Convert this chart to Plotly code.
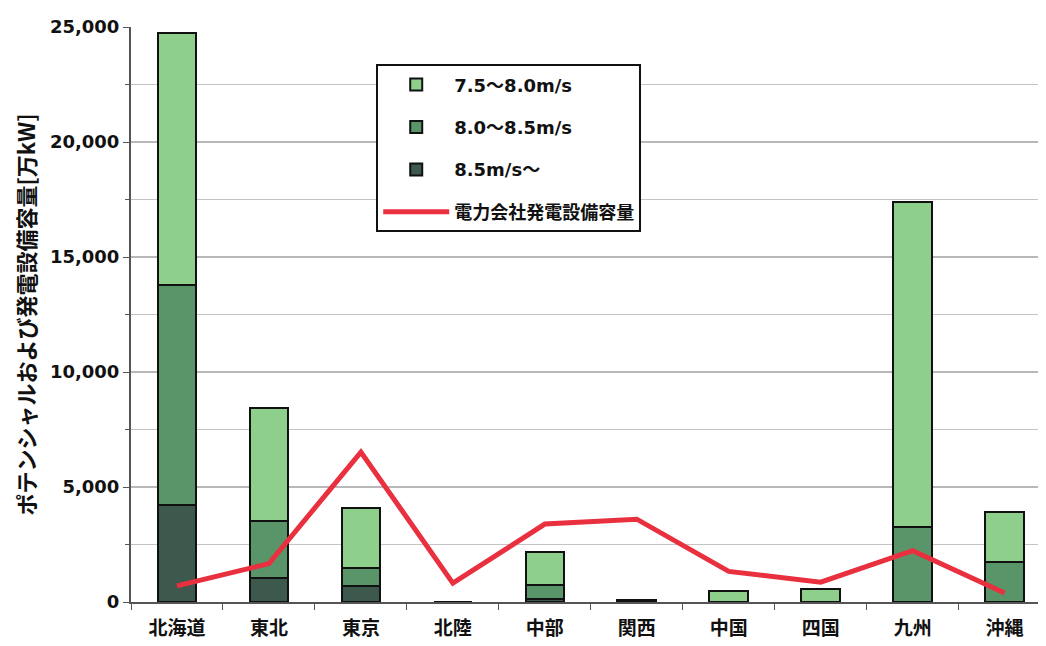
import plotly.graph_objects as go

regions = ["北海道", "東北", "東京", "北陸", "中部", "関西", "中国", "四国", "九州", "沖縄"]
wind_85_plus = [4200, 1030, 690, 0, 150, 0, 0, 0, 0, 0]
wind_80_85 = [9580, 2490, 770, 0, 580, 0, 0, 0, 3260, 1760]
wind_75_80 = [10940, 4930, 2620, 0, 1460, 80, 500, 560, 14120, 2140]
utility_capacity = [700, 1670, 6520, 820, 3390, 3600, 1330, 860, 2230, 390]

names = ["7.5～8.0m/s", "8.0～8.5m/s", "8.5m/s～", "電力会社発電設備容量"]
col_light = "#8fcf8c"
col_mid = "#5a956a"
col_dark = "#3d584c"
col_line = "#e8303f"

font_latin = "DejaVu Sans, Noto Sans CJK JP, sans-serif"
font_cjk = "Noto Sans CJK JP, sans-serif"

fig = go.Figure()
bar_common = dict(x=regions, width=0.42, marker_line=dict(color="#111111", width=2))
fig.add_trace(go.Bar(y=wind_85_plus, name=names[2], marker_color=col_dark,
                     legendrank=3, legendgroup="c", **bar_common))
fig.add_trace(go.Bar(y=wind_80_85, name=names[1], marker_color=col_mid,
                     legendrank=2, legendgroup="b", **bar_common))
fig.add_trace(go.Bar(y=wind_75_80, name=names[0], marker_color=col_light,
                     legendrank=1, legendgroup="a", **bar_common))
fig.add_trace(go.Scatter(x=regions, y=utility_capacity, name=names[3], mode="lines",
                         line=dict(color=col_line, width=5),
                         legendrank=4, legendgroup="d"))

fig.update_layout(
    width=1046, height=646,
    barmode="stack",
    paper_bgcolor="white", plot_bgcolor="white",
    margin=dict(l=123, r=8, t=12, b=52),
    font=dict(family=font_latin, size=17, color="#111111"),
    showlegend=True,
    legend=dict(
        x=0.268, y=0.935, xanchor="left", yanchor="top",
        bordercolor="#111111", borderwidth=2, bgcolor="white",
        traceorder="grouped", tracegroupgap=16,
        font=dict(family=font_latin, size=18, color="#111111", weight="bold"),
        itemwidth=66,
    ),
    xaxis=dict(
        range=[-0.5, 9.45],
        showline=True, linecolor="#555555", linewidth=2,
        ticks="outside", ticklen=6, tickcolor="#555555",
        tickson="boundaries",
        tickfont=dict(family=font_cjk, size=19, weight="bold"),
        ticklabelstandoff=8,
        showgrid=False,
    ),
    yaxis=dict(
        range=[0, 25000],
        dtick=5000, tickformat=",",
        showline=True, linecolor="#555555", linewidth=2,
        ticks="outside", ticklen=6, tickcolor="#555555",
        showgrid=True, gridcolor="#b8b8b8", gridwidth=1.5,
        minor=dict(dtick=2500, showgrid=True, gridcolor="#c4c4c4", gridwidth=1.2,
                   ticks="outside", ticklen=4, tickcolor="#555555"),
        tickfont=dict(family=font_latin, size=18, weight="bold"),
        title=dict(text="ポテンシャルおよび発電設備容量[万kW]",
                   font=dict(family=font_cjk, size=22, weight="bold"),
                   standoff=8),
        zeroline=False,
    ),
)

fig.write_html("out.html")
